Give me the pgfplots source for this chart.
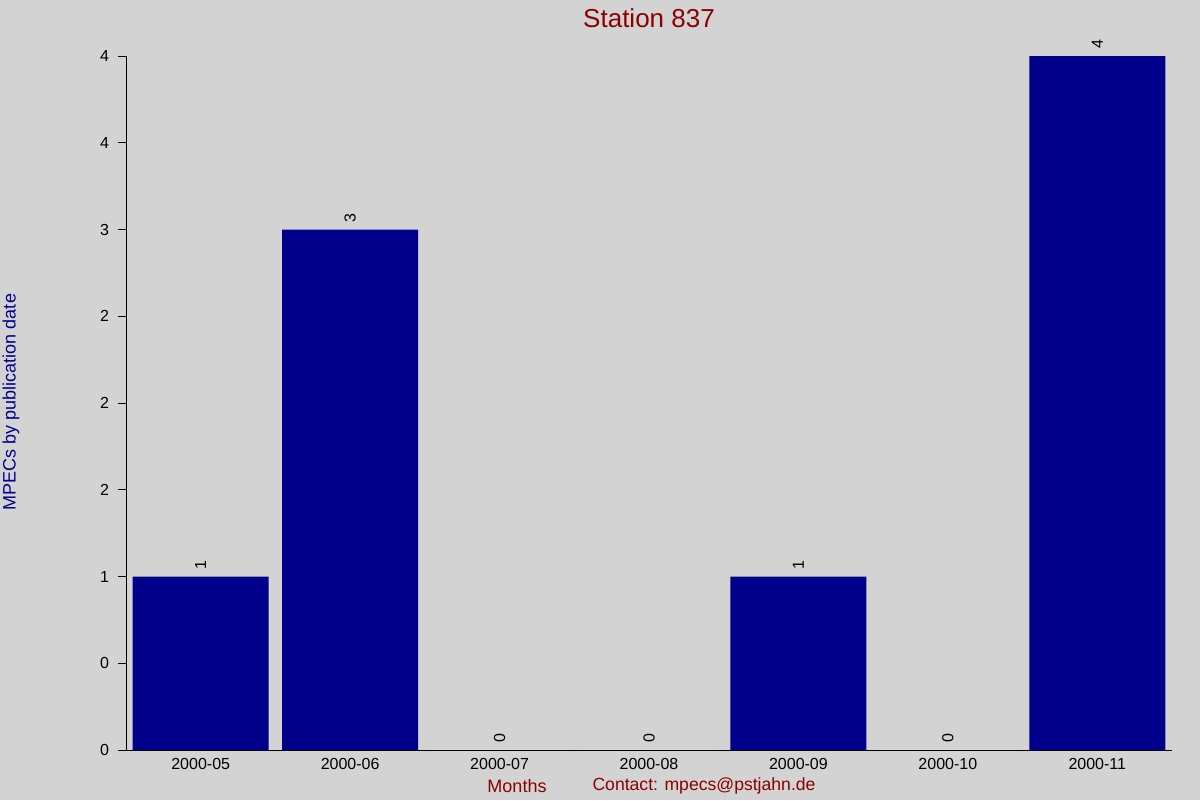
\documentclass[border=0pt]{standalone}
\usepackage{pgfplots}
\pgfplotsset{compat=1.18}
\usepackage{fontspec}
\setmainfont{Liberation Sans}
\definecolor{bg}{RGB}{211,211,211}
\definecolor{barblue}{RGB}{0,0,139}
\definecolor{titlered}{RGB}{139,0,0}

\begin{document}
\begin{tikzpicture}
% page: 1200x800 px at 0.5pt per px
\useasboundingbox (0pt,0pt) rectangle (600pt,400pt);
\fill[bg] (0pt,0pt) rectangle (600pt,400pt);
\begin{axis}[
    at={(63pt,25pt)}, anchor=south west,
    scale only axis, width=523pt, height=347pt,
    ybar, bar width=0.91,
    xmin=-0.5, xmax=6.5, ymin=0, ymax=4,
    axis x line=bottom, axis y line=left,
    axis line style={-, black, line width=0.5pt},
    xtick=data,
    xticklabels={2000-05,2000-06,2000-07,2000-08,2000-09,2000-10,2000-11},
    xtick style={draw=none},
    xticklabel style={yshift=3.5pt},
    ytick={0,0.5,...,4},
    yticklabels={0,0,1,2,2,2,3,4,4},
    y tick style={black, line width=0.5pt},
    tick align=outside, major tick length=4pt,
    yticklabel style={xshift=-1pt},
    tick label style={font=\fontsize{8}{9}\selectfont},
    /pgf/number format/assume math mode=true,
    clip=false,
    nodes near coords,
    every node near coord/.append style={rotate=90, anchor=west,
        font=\fontsize{8}{9}\selectfont, black},
]
\addplot[fill=barblue, draw=none] coordinates {
    (0,1) (1,3) (2,0) (3,0) (4,1) (5,0) (6,4)};
\end{axis}
\node[titlered, font=\fontsize{13}{15}\selectfont] at (324.5pt,391pt) {Station 837};
\node[titlered, font=\fontsize{9}{11}\selectfont] at (258.5pt,7pt) {Months};
\node[titlered, font=\fontsize{8.8}{11}\selectfont] at (352pt,7pt) {Contact: mpecs@pstjahn.de};
\node[barblue, rotate=90, font=\fontsize{9}{11}\selectfont] at (5.5pt,199pt) {MPECs by publication date};
\end{tikzpicture}
\end{document}
